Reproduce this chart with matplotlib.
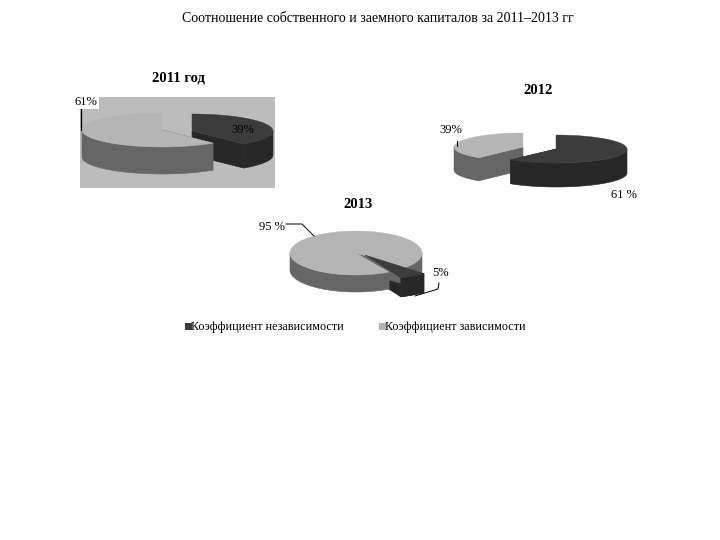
import numpy as np
import matplotlib
matplotlib.use('Agg')
import matplotlib.pyplot as plt
from matplotlib.patches import Polygon, Rectangle

plt.rcParams['font.family'] = ['Liberation Serif', 'DejaVu Serif']

titulo = 'Соотношение собственного и заемного капиталов за 2011–2013 гг'
series = ['Коэффициент независимости', 'Коэффициент зависимости']
valores_2011 = [39, 61]
valores_2012 = [61, 39]
valores_2013 = [5, 95]
etiquetas_2011 = ['39%', '61%']
etiquetas_2012 = ['61 %', '39%']
etiquetas_2013 = ['5%', '95 %']

# colores (cara superior, pared) para cada serie
c_oscuro = ('#3c3c3c', '#272727')
c_claro = ('#b5b5b5', '#666666')


def pts_arco(cx, cy, rx, ry, a0, a1):
    # angulos en grados, horario desde las 12
    a = np.radians(np.linspace(a0, a1, 120))
    return np.column_stack([cx + rx * np.sin(a), cy - ry * np.cos(a)])


def sector(ax, centro, rx, ry, alto, a0, valor, colores, cortes=True):
    cx, cy = centro
    a1 = a0 + valor * 3.6
    arco = pts_arco(cx, cy, rx, ry, a0, a1)
    # caras de los cortes
    if cortes:
        for p in (arco[0], arco[-1]):
            if abs(p[0] - cx) < 1:  # corte vertical, no se ve
                continue
            cara = [(cx, cy), p, (p[0], p[1] + alto), (cx, cy + alto)]
            ax.add_patch(Polygon(cara, fc=colores[1], ec=colores[1], lw=0.4))
    # pared exterior, solo la parte delantera
    for k in (0, 360):
        ini, fin = max(a0, 90 + k), min(a1, 270 + k)
        if ini < fin:
            fr = pts_arco(cx, cy, rx, ry, ini, fin)
            pared = np.vstack([fr, (fr + [0, alto])[::-1]])
            ax.add_patch(Polygon(pared, fc=colores[1], ec=colores[1], lw=0.4))
    ax.add_patch(Polygon(np.vstack([[cx, cy], arco]), fc=colores[0], ec=colores[0], lw=0.3))


fig = plt.figure(figsize=(7.2, 5.4), dpi=100)
ax = fig.add_axes([0, 0, 1, 1])
ax.set_xlim(0, 720)
ax.set_ylim(540, 0)
ax.axis('off')

ax.text(377.5, 18.5, titulo, ha='center', va='center', fontsize=10)

# 2011
ax.add_patch(Rectangle((80, 97), 195, 91, color='#bcbcbc', lw=0))
sector(ax, (192, 131), 81, 17, 24, 0, valores_2011[0], c_oscuro)
sector(ax, (162, 130), 80, 17, 27, valores_2011[0] * 3.6, valores_2011[1], c_claro)
ax.text(178.5, 77.5, '2011 год', ha='center', va='center', fontsize=10.5, fontweight='bold')
ax.text(243, 130, etiquetas_2011[0], ha='center', va='center', fontsize=9)
ax.plot([81, 81], [108, 130], color='black', lw=0.9)
ax.text(86, 102, etiquetas_2011[1], ha='center', va='center', fontsize=9,
        bbox=dict(fc='white', ec='none', pad=1))

# 2012
sector(ax, (523, 147), 69, 14, 23, valores_2012[0] * 3.6, valores_2012[1], c_claro)
sector(ax, (556, 149), 71, 14, 24, 0, valores_2012[0], c_oscuro)
ax.text(538, 90.5, '2012', ha='center', va='center', fontsize=10.5, fontweight='bold')
ax.text(624, 195, etiquetas_2012[0], ha='center', va='center', fontsize=9)
ax.text(451, 130, etiquetas_2012[1], ha='center', va='center', fontsize=9)
ax.plot([457, 457], [141, 146], color='black', lw=0.7)

# 2013, el sector oscuro va dos veces: detras y delante del claro
sector(ax, (365, 255), 88, 25, 19, 138, valores_2013[0], c_oscuro)
sector(ax, (356, 253), 66, 22, 17, 150, valores_2013[1], c_claro)
sector(ax, (365, 255), 88, 25, 19, 138, valores_2013[0], c_oscuro, cortes=False)
ax.text(358, 204.5, '2013', ha='center', va='center', fontsize=10.5, fontweight='bold')
ax.text(441, 273, etiquetas_2013[0], ha='center', va='center', fontsize=9)
ax.text(272, 226.5, etiquetas_2013[1], ha='center', va='center', fontsize=9)
ax.plot([286, 302, 314], [224, 224, 236], color='black', lw=0.7)
ax.plot([439, 438, 415], [283, 289, 296], color='black', lw=0.7)

# leyenda
ax.add_patch(Rectangle((185, 323), 7, 7, color=c_oscuro[0], lw=0))
ax.add_patch(Rectangle((379, 323), 7, 7, color=c_claro[0], lw=0))
ax.text(191, 327, series[0], ha='left', va='center', fontsize=8.7)
ax.text(385, 327, series[1], ha='left', va='center', fontsize=8.7)

fig.savefig('out.png', dpi=100)
